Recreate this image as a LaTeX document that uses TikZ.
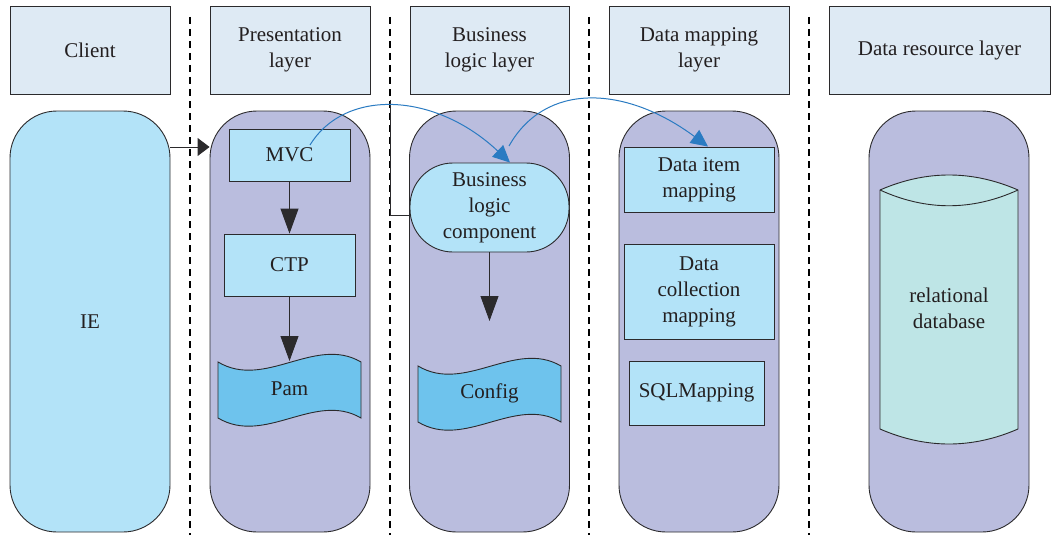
\documentclass[tikz,border=0pt]{standalone}
\usepackage{fontspec}
\setmainfont{Liberation Serif}
\usetikzlibrary{arrows.meta}
\definecolor{hdrfill}{HTML}{DEEAF4}
\definecolor{pillfill}{HTML}{BABDDE}
\definecolor{boxfill}{HTML}{B3E3F8}
\definecolor{tapefill}{HTML}{6EC3ED}
\definecolor{cylfill}{HTML}{BEE5E6}
\definecolor{bluec}{HTML}{2A7BC2}
\definecolor{edgec}{HTML}{2B2A2C}
\definecolor{textc}{HTML}{231F20}
\begin{document}
\begin{tikzpicture}[x=1pt,y=-1pt,
  font=\fontsize{21}{26}\selectfont, text=textc,
  hdr/.style={draw=edgec, line width=0.9pt, fill=hdrfill, rectangle, minimum height=88pt, align=center, inner sep=0pt},
  pill/.style={draw=edgec, line width=0.9pt, fill=pillfill, rectangle, rounded corners=47pt, minimum width=160pt, minimum height=421pt, inner sep=0pt},
  ibox/.style={draw=edgec, line width=0.9pt, fill=boxfill, rectangle, align=center, inner sep=0pt},
  tapeshape/.style={draw=edgec, line width=0.9pt, fill=tapefill},
  sep/.style={draw=black, line width=1.6pt, dash pattern=on 7pt off 5pt},
  blk/.style={draw=edgec, line width=0.9pt, -{Triangle[length=25pt,width=18pt]}},
  blu/.style={draw=bluec, line width=1pt, -{Triangle[length=17pt,width=16pt]}}
]
\useasboundingbox (0,0) rectangle (1060,535);

% separators
\coordinate (d1t) at (190,17); \coordinate (d1b) at (190,535);
\coordinate (d2t) at (390,17); \coordinate (d2b) at (390,535);
\coordinate (d3t) at (589,17); \coordinate (d3b) at (589,535);
\coordinate (d4t) at (809,17); \coordinate (d4b) at (809,535);
\draw[sep] (d1t) -- (d1b);
\draw[sep] (d2t) -- (d2b);
\draw[sep] (d3t) -- (d3b);
\draw[sep] (d4t) -- (d4b);

% headers
\node[hdr, minimum width=160pt] (hclient) at (90,50) {Client};
\node[hdr, minimum width=160pt] (hpres) at (290,50) {Presentation\\layer};
\node[hdr, minimum width=159pt] (hbus) at (489.5,50) {Business\\logic layer};
\node[hdr, minimum width=180pt] (hmap) at (699,50) {Data mapping\\layer};
\node[hdr, minimum width=221pt] (hres) at (939.5,50) {Data resource layer};

% columns
\node[pill, fill=boxfill] (pclient) at (90,321.5) {IE};
\node[pill] (ppres) at (290,321.5) {};
\node[pill] (pbus) at (489.5,321.5) {};
\node[pill] (pmap) at (699,321.5) {};
\node[pill] (pres) at (949,321.5) {};

% presentation layer
\node[ibox, minimum width=121pt, minimum height=52pt] (mvc) at (289.5,155) {MVC};
\node[ibox, minimum width=131pt, minimum height=62pt] (ctp) at (289.5,265) {CTP};
\draw[tapeshape] (218,362) .. controls (265,390) and (315,335) .. (361,362)
  -- (361,418) .. controls (315,391) and (265,446) .. (218,418) -- cycle;
\node (pam) at (289.5,389) {Pam};
\coordinate (pamtop) at (289.5,361);

% business logic layer
\node[ibox, rounded corners=43pt, minimum width=159pt, minimum height=89pt] (bl) at (489.5,207.5) {Business\\logic\\component};
\draw[tapeshape] (418,366) .. controls (465,394) and (515,339) .. (561,366)
  -- (561,422) .. controls (515,395) and (465,450) .. (418,422) -- cycle;
\node (cfg) at (489.5,393) {Config};
\coordinate (blend) at (489.5,321);

% data mapping layer
\node[ibox, minimum width=150pt, minimum height=65pt] (dim) at (699,179.5) {Data item\\mapping};
\node[ibox, minimum width=150pt, minimum height=95pt] (dcm) at (699,291.5) {Data\\collection\\mapping};
\node[ibox, minimum width=135pt, minimum height=64pt] (sql) at (696.5,393) {SQLMapping};

% data resource layer
\draw[draw=edgec, line width=0.9pt, fill=cylfill] (880,190) .. controls (926,170) and (972,170) .. (1018,190)
  -- (1018,429) .. controls (972,449) and (926,449) .. (880,429) -- cycle;
\draw[draw=edgec, line width=0.9pt] (880,190) .. controls (926,211) and (972,211) .. (1018,190);
\node[align=center] (db) at (949,308) {relational\\database};

% connectors
\draw[edgec, line width=0.9pt, -{Triangle[length=12pt,width=18pt]}] (pclient.east |- 0,147) -- (ppres.west |- 0,147);
\draw[blk] (mvc) -- (ctp);
\draw[blk] (ctp) -- (pamtop);
\draw[blk] (bl) -- (blend);
\coordinate (elb) at (390,100);
\draw[edgec, line width=0.9pt] (elb) -- (390,215) -- (bl.west |- 0,215);

\coordinate (s1) at (310,145);
\coordinate (s2) at (509,146);
\draw[blu] (s1) .. controls (345,88) and (435,92) .. ([xshift=20.5pt]bl.north);
\draw[blu] (s2) .. controls (545,82) and (625,85) .. ([xshift=9pt]dim.north);
\end{tikzpicture}
\end{document}
